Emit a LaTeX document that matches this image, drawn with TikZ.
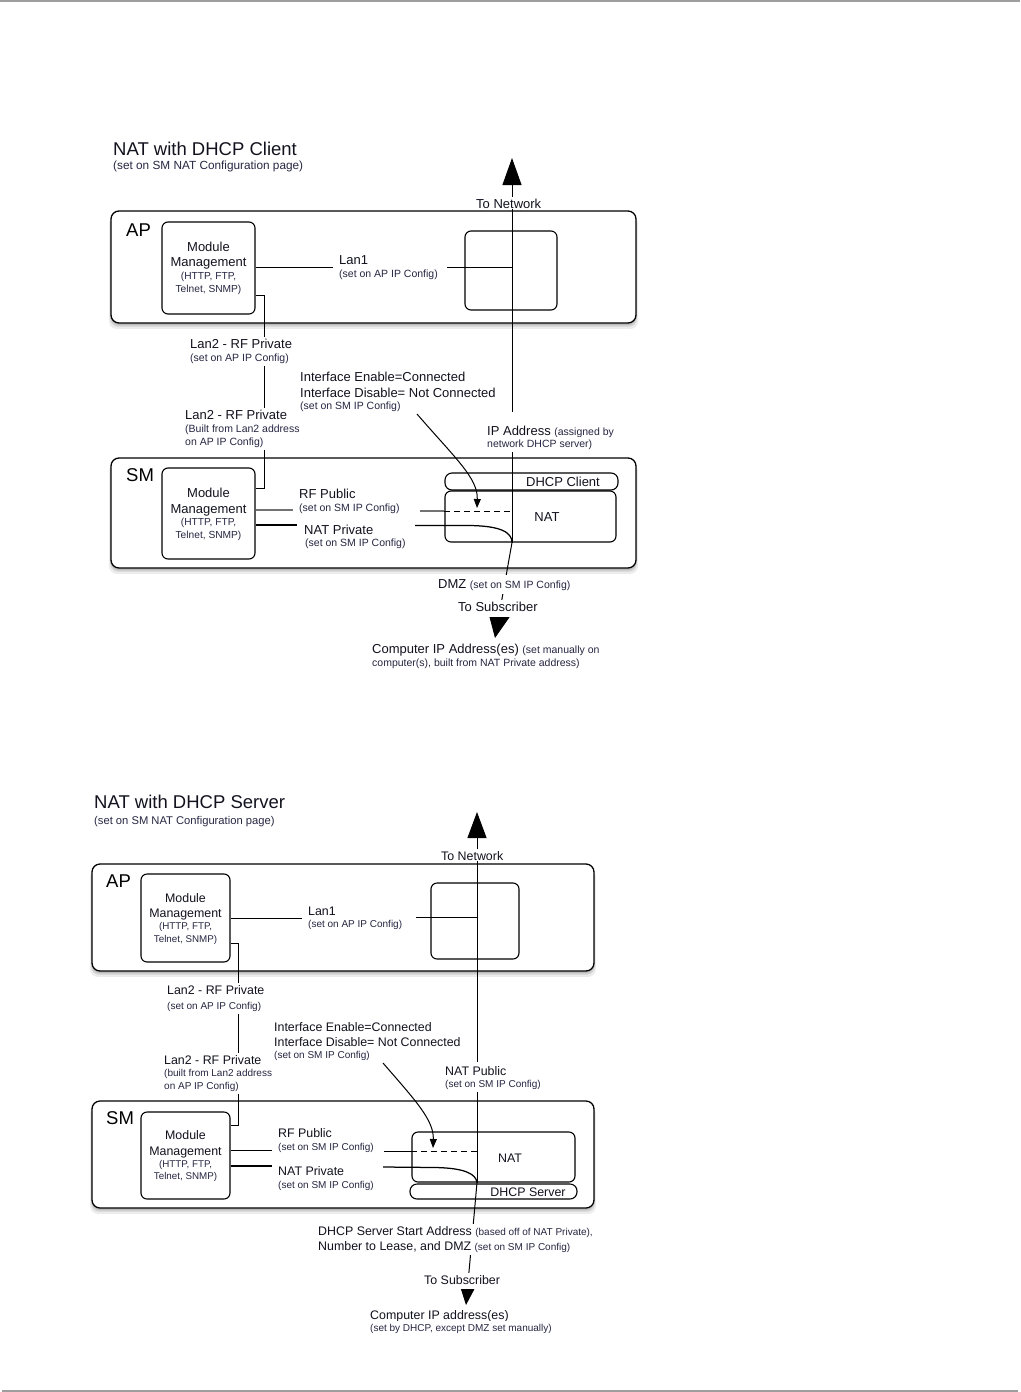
\documentclass[tikz,border=0pt]{standalone}
\usepackage{fontspec}
\setmainfont{Liberation Sans}
\usetikzlibrary{arrows.meta,shadows}
\definecolor{txt}{RGB}{18,18,30}
\definecolor{stxt}{RGB}{38,38,66}
\newcommand\fT{\fontsize{18.5}{21}\selectfont}
\newcommand\fTs{\fontsize{11.8}{13}\selectfont}
\newcommand\fM{\fontsize{13}{15}\selectfont}
\newcommand\fS{\fontsize{10.5}{12}\selectfont}
\newcommand\fB{\fontsize{10.2}{12}\selectfont}
\newcommand\gM{\fontsize{12.4}{14}\selectfont}
\newcommand\gS{\fontsize{10}{12}\selectfont}
\newcommand\gB{\fontsize{9.8}{12}\selectfont}
\begin{document}
\begin{tikzpicture}[x=1pt,y=-1pt,
  container/.style={draw=black, line width=1.3pt, rounded corners=8pt, fill=white, inner sep=0pt,
    drop shadow={shadow xshift=0pt,shadow yshift=-5.5pt,shadow scale=1.008,opacity=0.15},
    drop shadow={shadow xshift=0pt,shadow yshift=-3.5pt,shadow scale=1.003,opacity=0.24},
    drop shadow={shadow xshift=0pt,shadow yshift=-2pt,opacity=0.28}},
  ibox/.style={draw=black, line width=1.1pt, rounded corners=6pt, inner sep=0pt},
  pill/.style={draw=black, line width=1.1pt, rounded corners=7pt, inner sep=0pt},
  conn/.style={draw=black, line width=1pt},
  thick conn/.style={draw=black, line width=1.25pt},
  grayconn/.style={draw=black!55, line width=1.2pt},
  dashconn/.style={draw=black, line width=1pt, dash pattern=on 6pt off 4pt},
  titl/.style={anchor=base west, inner sep=0pt, text=txt, font=\fT},
  subt/.style={anchor=base west, inner sep=0pt, text=stxt, font=\fTs},
  big/.style={anchor=base west, inner sep=0pt, text=black, font=\fT},
  lm/.style={anchor=base west, inner xsep=1.5pt, inner ysep=2pt, fill=white, text=txt, font=\fM, text height=10pt, text depth=3pt},
  ls/.style={anchor=base west, inner xsep=1.5pt, inner ysep=2pt, fill=white, text=stxt, font=\fS, text height=8.5pt, text depth=2.4pt},
  gm/.style={anchor=base west, inner xsep=1.5pt, inner ysep=2pt, fill=white, text=txt, font=\gM, text height=9.6pt, text depth=2.9pt},
  gs/.style={anchor=base west, inner xsep=1.5pt, inner ysep=2pt, fill=white, text=stxt, font=\gS, text height=8.5pt, text depth=2.3pt},
  mmm/.style={anchor=base, inner sep=0pt, text=txt, font=\fM},
  mms/.style={anchor=base, inner sep=0pt, text=stxt, font=\fB},
  nmm/.style={anchor=base, inner sep=0pt, text=txt, font=\gM},
  nms/.style={anchor=base, inner sep=0pt, text=stxt, font=\gB},
  ctr/.style={inner sep=0pt, text=txt}
]
\useasboundingbox (0,0) rectangle (1020,1392);
\draw[black!38, line width=2pt] (0,1) -- (1020,1);
\draw[black!38, line width=2pt] (2,1391) -- (1018,1391);

% ================= TOP DIAGRAM =================
\node[titl] (t1) at (113,155) {NAT with DHCP Client};
\node[subt] (t1s) at (113,169.5) {(set on SM NAT Configuration page)};

\node[container, minimum width=525pt, minimum height=112pt] (ap1) at (373.5,267) {};
\node[container, minimum width=525pt, minimum height=110pt] (sm1) at (373.5,513) {};

\node[big] (apl1) at (126,236) {AP};
\node[big] (sml1) at (126,481.5) {SM};

\node[ibox, minimum width=93pt, minimum height=92pt] (mm1) at (208.5,268) {};
\node[ibox, minimum width=92pt, minimum height=79pt] (rb1) at (511,270.5) {};
\node[ibox, minimum width=93pt, minimum height=91pt] (mm2) at (208.5,513.5) {};
\node[pill, minimum width=173pt, minimum height=17pt] (dhc1) at (531.5,481.5) {};
\node[ibox, minimum width=171pt, minimum height=51pt] (nat1) at (530.5,516.5) {};

\node[mmm] (mm1a) at (208.5,251.7) {Module};
\node[mmm] (mm1b) at (208.5,266.7) {Management};
\node[mms] (mm1c) at (208.5,279.7) {(HTTP, FTP,};
\node[mms] (mm1d) at (208.5,292.7) {Telnet, SNMP)};
\node[mmm] (mm2a) at (208.5,497.7) {Module};
\node[mmm] (mm2b) at (208.5,513.7) {Management};
\node[mms] (mm2c) at (208.5,525.7) {(HTTP, FTP,};
\node[mms] (mm2d) at (208.5,538.7) {Telnet, SNMP)};
\node[ctr, font=\fM] (dhc1t) at (563,482) {DHCP Client};
\node[ctr, font=\fM] (nat1t) at (547,517) {NAT};

% coordinates
\coordinate (n1top) at (512,158);
\coordinate (s1tip) at (495,638);
\coordinate (l1a) at (333,267);
\coordinate (l1b) at (447,267);
\coordinate (l2top) at (264,295);
\coordinate (l2bot) at (264,488);
\coordinate (rp1a) at (293,510);
\coordinate (rp1b) at (420,511);
\coordinate (np1a) at (297,525);
\coordinate (np1b) at (415,525.5);
\coordinate (if1a) at (417,414);
\coordinate (if1b) at (477,508);

% connectors
\draw[conn, -{Triangle[length=27pt,width=19pt]}] (nat1.south -| n1top) -- (n1top);
\draw[conn, -{Triangle[length=23pt,width=21pt]}] (nat1.south -| n1top) -- (s1tip);
\draw[conn, line width=0.8pt] (mm1.east |- l1a) -- (l1a);
\draw[conn, line width=0.8pt] (l1b) -- (l1b -| n1top);
\draw[conn] (mm1.east |- l2top) -- (l2top) -- (l2bot) -- (mm2.east |- l2bot);
\draw[grayconn] (mm2.east |- rp1a) -- (rp1a);
\draw[grayconn] (rp1b) -- (rp1b -| nat1.west);
\draw[dashconn] (rp1b -| nat1.west) -- (rp1b -| n1top);
\draw[thick conn] (mm2.east |- np1a) -- (np1a);
\draw[thick conn] (np1b) -- (470,525.5) .. controls (500,526) and (512,532) .. (nat1.south -| n1top);
\draw[conn, -{Triangle[length=9pt,width=7pt]}] (if1a) .. controls (455,458) and (478,478) .. (if1b);

% labels
\node[lm, text height=11.5pt, text depth=0pt, inner ysep=0.5pt] (tn1) at (474.5,208.5) {To Network};
\node[lm] (lan1a) at (337.5,264.7) {Lan1};
\node[ls] (lan1b) at (337.5,277.8) {(set on AP IP Config)};
\node[lm] (l2a1) at (188.5,348.7) {Lan2 - RF Private};
\node[ls] (l2a2) at (188.5,361.8) {(set on AP IP Config)};
\node[lm] (l2b1) at (183.5,419.7) {Lan2 - RF Private};
\node[ls] (l2b2) at (183.5,432.8) {(Built from Lan2 address};
\node[ls] (l2b3) at (183.5,445.8) {on AP IP Config)};
\node[lm] (if1t1) at (298.5,381.7) {Interface Enable=Connected};
\node[lm] (if1t2) at (298.5,397.7) {Interface Disable= Not Connected};
\node[ls] (if1t3) at (298.5,409.8) {(set on SM IP Config)};
\node[lm, text height=22pt] (ip1a) at (485.5,435.7) {IP Address {\fS\color{stxt}(assigned by}};
\node[ls] (ip1b) at (485.5,447.8) {network DHCP server)};
\node[lm] (rp1t1) at (297.5,498.7) {RF Public};
\node[ls] (rp1t2) at (297.5,511.8) {(set on SM IP Config)};
\node[lm] (np1t1) at (302.5,534.7) {NAT Private};
\node[ls] (np1t2) at (303.5,546.8) {(set on SM IP Config)};
\node[lm, inner xsep=4pt, text height=11.5pt] (dmz1) at (434,588.7) {DMZ {\fS\color{stxt}(set on SM IP Config)}};
\node[lm] (ts1) at (456.5,611.7) {To Subscriber};
\node[lm] (cip1a) at (370.5,653.7) {Computer IP Address(es) {\fS\color{stxt}(set manually on}};
\node[ls] (cip1b) at (370.5,666.8) {computer(s), built from NAT Private address)};

% ================= BOTTOM DIAGRAM =================
\node[titl] (t2) at (94,808.5) {NAT with DHCP Server};
\node[subt, font=\fontsize{11.2}{13}\selectfont] (t2s) at (94,824) {(set on SM NAT Configuration page)};

\node[container, minimum width=502pt, minimum height=107pt] (ap2) at (343,917.5) {};
\node[container, minimum width=502pt, minimum height=107pt] (sm2) at (343,1154.5) {};

\node[big] (apl2) at (106,887.5) {AP};
\node[big] (sml2) at (106,1124.5) {SM};

\node[ibox, minimum width=89pt, minimum height=88pt] (mm3) at (185.5,918) {};
\node[ibox, minimum width=88pt, minimum height=76pt] (rb2) at (475,921) {};
\node[ibox, minimum width=89pt, minimum height=87pt] (mm4) at (185.5,1155.5) {};
\node[ibox, minimum width=163pt, minimum height=50pt] (nat2) at (493.5,1157) {};
\node[pill, minimum width=167pt, minimum height=15pt] (dhs2) at (493.5,1191.5) {};

\node[nmm] (mm3a) at (185.5,902.5) {Module};
\node[nmm] (mm3b) at (185.5,917.5) {Management};
\node[nms] (mm3c) at (185.5,929.7) {(HTTP, FTP,};
\node[nms] (mm3d) at (185.5,942.7) {Telnet, SNMP)};
\node[nmm] (mm4a) at (185.5,1139.5) {Module};
\node[nmm] (mm4b) at (185.5,1155.5) {Management};
\node[nms] (mm4c) at (185.5,1167.7) {(HTTP, FTP,};
\node[nms] (mm4d) at (185.5,1179.7) {Telnet, SNMP)};
\node[ctr, font=\gM] (nat2t) at (510,1158) {NAT};
\node[ctr, font=\gM] (dhs2t) at (528,1192) {DHCP Server};

\coordinate (n2top) at (477,812);
\coordinate (s2tip) at (466,1305);
\coordinate (m1a) at (302,918);
\coordinate (m1b) at (416,917);
\coordinate (m2top) at (238,943);
\coordinate (m2bot) at (238,1125);
\coordinate (rp2a) at (272,1150);
\coordinate (rp2b) at (384,1151);
\coordinate (np2a) at (272,1166);
\coordinate (np2b) at (383,1167);
\coordinate (if2a) at (383,1063);
\coordinate (if2b) at (433,1148);

\draw[conn, -{Triangle[length=26pt,width=19pt]}] (nat2.south -| n2top) -- (n2top);
\draw[conn, -{Triangle[length=17pt,width=14pt]}] (nat2.south -| n2top) -- (s2tip);
\draw[conn, line width=0.8pt] (mm3.east |- m1a) -- (m1a);
\draw[conn, line width=0.8pt] (m1b) -- (m1b -| n2top);
\draw[conn] (mm3.east |- m2top) -- (m2top) -- (m2bot) -- (mm4.east |- m2bot);
\draw[conn, line width=0.8pt] (mm4.east |- rp2a) -- (rp2a);
\draw[conn, line width=0.8pt] (rp2b) -- (rp2b -| nat2.west);
\draw[dashconn, line width=0.8pt] (rp2b -| nat2.west) -- (rp2b -| n2top);
\draw[thick conn] (mm4.east |- np2a) -- (np2a);
\draw[thick conn] (np2b) -- (435,1167.5) .. controls (465,1168) and (476,1174) .. (nat2.south -| n2top);
\draw[conn, -{Triangle[length=9pt,width=7pt]}] (if2a) .. controls (415,1100) and (434,1120) .. (if2b);

\node[gm, text height=11pt, text depth=0pt, inner ysep=0.5pt] (tn2) at (439.5,860.5) {To Network};
\node[gm] (m1t1) at (306.5,915.5) {Lan1};
\node[gs] (m1t2) at (306.5,927.6) {(set on AP IP Config)};
\node[gm] (m2a1) at (165.5,994.5) {Lan2 - RF Private};
\node[gs] (m2a2) at (165.5,1009.6) {(set on AP IP Config)};
\node[gm] (m2b1) at (162.5,1064.5) {Lan2 - RF Private};
\node[gs] (m2b2) at (162.5,1076.6) {(built from Lan2 address};
\node[gs] (m2b3) at (162.5,1089.6) {on AP IP Config)};
\node[gm] (if2t1) at (272.5,1031.5) {Interface Enable=Connected};
\node[gm] (if2t2) at (272.5,1046.5) {Interface Disable= Not Connected};
\node[gs] (if2t3) at (272.5,1058.6) {(set on SM IP Config)};
\node[gm, text height=12pt] (npub1) at (443.5,1075.5) {NAT Public};
\node[gs] (npub2) at (443.5,1087.6) {(set on SM IP Config)};
\node[gm] (rp2t1) at (276.5,1137.5) {RF Public};
\node[gs] (rp2t2) at (276.5,1150.6) {(set on SM IP Config)};
\node[gm] (np2t1) at (276.5,1175.5) {NAT Private};
\node[gs] (np2t2) at (276.5,1188.6) {(set on SM IP Config)};
\node[gm] (dss1) at (316.5,1235.5) {DHCP Server Start Address {\gS\color{stxt}(based off of NAT Private),}};
\node[gm] (dss2) at (316.5,1250.5) {Number to Lease, and DMZ {\gS\color{stxt}(set on SM IP Config)}};
\node[gm] (ts2) at (422.5,1284.5) {To Subscriber};
\node[gm] (cip2a) at (368.5,1319.5) {Computer IP address(es)};
\node[gs] (cip2b) at (368.5,1331.6) {(set by DHCP, except DMZ set manually)};
\end{tikzpicture}
\end{document}
